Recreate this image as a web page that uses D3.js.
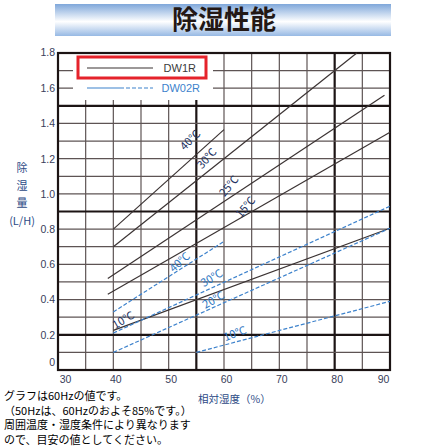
<!DOCTYPE html>
<html lang="ja">
<head>
<meta charset="UTF-8">
<title>除湿性能</title>
<script src="https://d3js.org/d3.v7.min.js"></script>
<style>
    body { margin: 0; background: #fff; }
    svg { display: block; font-family: "Noto Sans CJK JP", "Noto Sans", sans-serif; }
    .grid { stroke: #5e5454; stroke-width: 1.2; }
    .grid-heavy { stroke: #1c1414; stroke-width: 2.2; }
    .tick text { fill: #38405a; font-family: "Liberation Sans", sans-serif; font-size: 10.5px; }
    .dw1r { fill: none; stroke: #3b3333; stroke-width: 1.2; }
    .dw02r { fill: none; stroke: #3d82cc; stroke-width: 1.2; stroke-dasharray: 4 2; }
</style>
</head>
<body>
<script>
    // relative humidity (%) and capacity (L/H) ticks
    const humidityTicks = [30, 40, 50, 60, 70, 80, 90];
    const capacityTicks = [0, 0.2, 0.4, 0.6, 0.8, 1.0, 1.2, 1.4, 1.6, 1.8];

    // DW1R (solid) : start / end of each temperature line
    const dw1rTemps = ["40℃", "30℃", "25℃", "15℃", "10℃"];
    const dw1rRH = [[40, 60], [40, 84], [39, 89], [39, 90], [40, 90]];
    const dw1rLH = [[0.80, 1.365], [0.70, 1.80], [0.52, 1.56], [0.43, 1.35], [0.225, 0.805]];

    // DW02R (dashed)
    const dw02rTemps = ["40℃", "30℃", "20℃", "10℃"];
    const dw02rRH = [[40, 60], [40, 90], [40, 90], [55, 90]];
    const dw02rLH = [[0.33, 0.73], [0.21, 0.93], [0.10, 0.805], [0.10, 0.39]];

    const notes = [
        "グラフは60Hzの値です。",
        "（50Hzは、60Hzのおよそ85%です。）",
        "周囲温度・湿度条件により異なります",
        "ので、目安の値としてください。"
    ];

    const W = 446, H = 448;
    const svg = d3.select("body").append("svg")
        .attr("width", W).attr("height", H);

    const x = d3.scaleLinear().domain([30, 90]).range([58, 390]);
    const y = d3.scaleLinear().domain([0, 1.8]).range([370, 53]);

    // title band
    const defs = svg.append("defs");
    const grad = defs.append("linearGradient").attr("id", "band")
        .attr("x1", 0).attr("y1", 0).attr("x2", 0).attr("y2", 1);
    grad.append("stop").attr("offset", "0%").attr("stop-color", "#7fa7da");
    grad.append("stop").attr("offset", "55%").attr("stop-color", "#ffffff");
    grad.append("stop").attr("offset", "100%").attr("stop-color", "#97b9e4");
    svg.append("rect").attr("x", 55).attr("y", 4).attr("width", 336).attr("height", 32)
        .attr("fill", "url(#band)");
    svg.append("text").attr("x", 224).attr("y", 29)
        .attr("text-anchor", "middle")
        .attr("font-size", 26).attr("font-weight", "bold").attr("fill", "#231815")
        .text("除湿性能");

    // grid
    const g = svg.append("g");
    g.selectAll(".vx").data(d3.range(35, 90, 5)).join("line")
        .attr("class", d => d === 55 || d === 80 ? "grid-heavy" : "grid")
        .attr("x1", d => x(d)).attr("x2", d => x(d))
        .attr("y1", y(0)).attr("y2", y(1.8));
    g.selectAll(".hy").data(d3.range(1, 18).map(d => d / 10)).join("line")
        .attr("class", d => [0.2, 0.9, 1.5].includes(d) ? "grid-heavy" : "grid")
        .attr("x1", x(30)).attr("x2", x(90))
        .attr("y1", d => y(d)).attr("y2", d => y(d));

    // white patch behind legend
    g.append("rect").attr("x", 73).attr("y", 54).attr("width", 140).attr("height", 46)
        .attr("fill", "#fff");

    g.append("rect").attr("x", x(30)).attr("y", y(1.8))
        .attr("width", x(90) - x(30)).attr("height", y(0) - y(1.8))
        .attr("fill", "none").attr("stroke", "#1c1414").attr("stroke-width", 2.2);

    // axes (labels only)
    const xAxis = svg.append("g").attr("transform", `translate(0,${y(0)})`)
        .call(d3.axisBottom(x).tickValues(humidityTicks).tickSize(0).tickPadding(6).tickFormat(d3.format("d")));
    xAxis.select(".domain").remove();
    xAxis.selectAll(".tick text")
        .attr("dx", d => d === 30 ? 7 : d === 90 ? -7 : 2);

    const yAxis = svg.append("g").attr("transform", `translate(${x(30)},0)`)
        .call(d3.axisLeft(y).tickValues(capacityTicks).tickSize(0).tickPadding(3)
            .tickFormat(d => d === 0 ? "0" : d3.format(".1f")(d)));
    yAxis.select(".domain").remove();
    yAxis.selectAll(".tick text").attr("dy", d => d === 0 ? "-0.45em" : d === 1.8 ? "0.2em" : "0.32em");

    // lines
    const line = d3.line().x(d => x(d[0])).y(d => y(d[1]));
    const seg = (rh, lh) => rh.map((r, i) => [r, lh[i]]);

    svg.append("g").selectAll("path").data(dw1rRH.map((r, i) => seg(r, dw1rLH[i]))).join("path")
        .attr("class", "dw1r").attr("d", line);
    svg.append("g").selectAll("path").data(dw02rRH.map((r, i) => seg(r, dw02rLH[i]))).join("path")
        .attr("class", "dw02r").attr("d", line);

    // temperature labels (layout: position in chart units + rotation)
    const dw1rLabelPos = [[53.9, 1.306, -45], [56.9, 1.202, -48], [60.9, 1.045, -50], [63.9, 0.925, -50], [41.8, 0.284, -30]];
    const dw02rLabelPos = [[52.0, 0.613, -42], [57.8, 0.522, -31], [58.1, 0.398, -30], [62.0, 0.207, -21]];

    function labels(temps, pos, color) {
        svg.append("g").selectAll("text").data(temps).join("text")
            .attr("transform", (d, i) => `translate(${x(pos[i][0])},${y(pos[i][1])}) rotate(${pos[i][2]})`)
            .attr("text-anchor", "middle").attr("dy", "0.35em")
            .attr("font-size", 11).attr("fill", color)
            .text(d => d);
    }
    labels(dw1rTemps, dw1rLabelPos, "#22325f");
    labels(dw02rTemps, dw02rLabelPos, "#2f77c2");

    // legend
    const lg = svg.append("g");
    lg.append("rect").attr("x", 78).attr("y", 57).attr("width", 128).attr("height", 21)
        .attr("fill", "none").attr("stroke", "#e5232b").attr("stroke-width", 3);
    lg.append("line").attr("x1", 87).attr("x2", 153).attr("y1", 68).attr("y2", 68)
        .attr("stroke", "#3b3333").attr("stroke-width", 1.2);
    lg.append("text").attr("x", 196).attr("y", 72).attr("text-anchor", "end")
        .attr("font-size", 11).attr("fill", "#3a3a3a").attr("font-family", "Liberation Sans, sans-serif")
        .text("DW1R");
    lg.append("line").attr("x1", 87).attr("x2", 120).attr("y1", 88).attr("y2", 88)
        .attr("stroke", "#3d82cc").attr("stroke-width", 1.2);
    lg.append("line").attr("x1", 120).attr("x2", 153).attr("y1", 88).attr("y2", 88)
        .attr("class", "dw02r");
    lg.append("text").attr("x", 200).attr("y", 92).attr("text-anchor", "end")
        .attr("font-size", 11).attr("fill", "#3d82cc").attr("font-family", "Liberation Sans, sans-serif")
        .text("DW02R");

    // y axis title (vertical)
    const yt = svg.append("g").attr("fill", "#2c4a86").attr("font-size", 11).attr("text-anchor", "middle");
    [["除", 172], ["湿", 190], ["量", 207], ["(L/H)", 225]].forEach(([t, yy]) => {
        yt.append("text").attr("x", 22).attr("y", yy).text(t);
    });

    // x axis title
    svg.append("text").attr("x", 198).attr("y", 403)
        .attr("font-size", 10.5).attr("fill", "#2c4a86")
        .text("相対湿度（%）");

    // notes
    svg.append("g").selectAll("text").data(notes).join("text")
        .attr("x", 4).attr("y", (d, i) => 400 + i * 14.6)
        .attr("font-size", 11).attr("fill", "#000")
        .text(d => d);
</script>
</body>
</html>
